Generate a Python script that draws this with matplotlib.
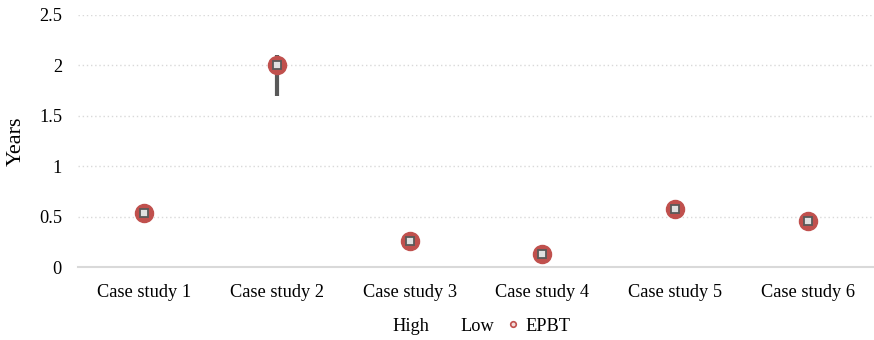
import matplotlib
matplotlib.use("Agg")
import matplotlib.pyplot as plt
from matplotlib.lines import Line2D

plt.rcParams['font.family'] = ['Liberation Serif', 'DejaVu Serif']

categories = ["Case study 1", "Case study 2", "Case study 3",
              "Case study 4", "Case study 5", "Case study 6"]
epbt = [0.54, 2.00, 0.26, 0.13, 0.58, 0.46]
high = [0.56, 2.10, 0.28, 0.14, 0.60, 0.47]
low = [0.52, 1.70, 0.25, 0.12, 0.48, 0.44]
yticks = [0, 0.5, 1, 1.5, 2, 2.5]
ytick_labels = ["0", "0.5", "1", "1.5", "2", "2.5"]

fig = plt.figure(figsize=(8.74, 3.40), dpi=100)
ax = fig.add_axes([0.0892, 0.2147, 0.9108, 0.7413])

x = list(range(len(categories)))

# high-low range bars
ax.vlines(x, low, high, color="#595959", linewidth=3.0, zorder=2)
# EPBT points
ax.plot(x, epbt, linestyle="none", marker="o", markersize=13,
        markerfacecolor="#C0504D", markeredgecolor="#C0504D", zorder=3)
# close markers inside the points
ax.plot(x, epbt, linestyle="none", marker="s", markersize=5.2,
        markerfacecolor="#E0E0E0", markeredgecolor="#595959",
        markeredgewidth=1.3, zorder=4)

ax.set_xlim(-0.5, len(categories) - 0.5)
ax.set_ylim(0, 2.5)
ax.set_yticks(yticks)
ax.set_yticklabels(ytick_labels)
ax.set_xticks(x)
ax.set_xticklabels(categories)
ax.tick_params(axis="both", length=0, labelsize=13.2, colors="#000000")
ax.tick_params(axis="x", pad=12.5)
ax.tick_params(axis="y", pad=11.5)

ax.yaxis.grid(True, linestyle=(0, (1, 2)), color="#D9D9D9", linewidth=1.0)
ax.set_axisbelow(True)
for side in ["top", "right", "left"]:
    ax.spines[side].set_visible(False)
ax.spines["bottom"].set_color("#D9D9D9")
ax.spines["bottom"].set_linewidth(1.5)
ax.spines["bottom"].set_zorder(1)

ax.set_ylabel("Years", fontsize=16)
ax.yaxis.set_label_coords(-0.0654, 0.5)

handles = [
    Line2D([], [], linestyle="none"),
    Line2D([], [], linestyle="none"),
    Line2D([], [], linestyle="none", marker="o", markersize=4,
           markerfacecolor="#F2DCDB", markeredgecolor="#C0504D",
           markeredgewidth=1.2),
]
fig.legend(handles, ["High", "Low", "EPBT"], loc="center",
           bbox_to_anchor=(0.541, 0.041), ncol=3, frameon=False,
           fontsize=13.2, handlelength=0.5, handletextpad=0.4,
           columnspacing=0.8)

fig.savefig("out.png", dpi=100)
